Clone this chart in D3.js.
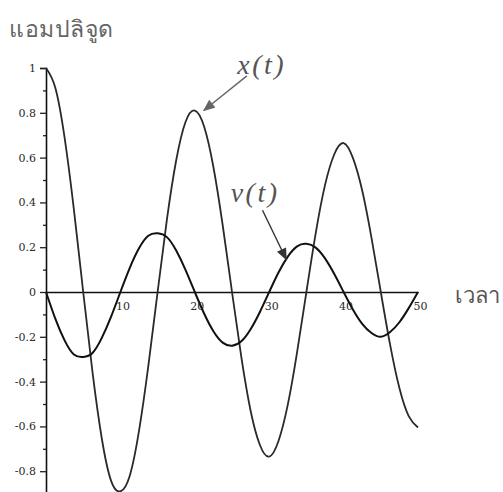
<!DOCTYPE html>
<html>
<head>
<meta charset="utf-8">
<script src="https://cdn.jsdelivr.net/npm/d3@7"></script>
<style>
  body { margin: 0; background: #fff; }
  .wrapper { width: 503px; height: 492px; }
  .tick text { font-family: "DejaVu Serif", "Liberation Serif", serif; font-size: 11px; fill: #2a2a2a; }
</style>
</head>
<body>
<div class="wrapper"></div>
<script>
width = 503;
height = 492;

// time samples and values
t = [0, 1.25, 2.5, 3.75, 5, 6.25, 7.5, 8.75, 10, 11.25, 12.5, 13.75, 15, 16.25, 17.5, 18.75,
  20, 21.25, 22.5, 23.75, 25, 26.25, 27.5, 28.75, 30, 31.25, 32.5, 33.75, 35, 36.25, 37.5, 38.75,
  40, 41.25, 42.5, 43.75, 45, 46.25, 47.5, 48.75, 50];
xVals = [1, 0.912, 0.689, 0.368, 0, -0.358, -0.654, -0.843, -0.89, -0.821, -0.62, -0.331, 0, 0.323, 0.588, 0.759,
  0.81, 0.739, 0.558, 0.298, 0, -0.29, -0.53, -0.683, -0.735, -0.665, -0.503, -0.268, 0, 0.262, 0.477, 0.615,
  0.665, 0.599, 0.453, 0.242, 0, -0.235, -0.429, -0.554, -0.605];
vVals = [0, -0.119, -0.216, -0.279, -0.29, -0.272, -0.205, -0.11, 0, 0.107, 0.195, 0.251, 0.262, 0.245, 0.185, 0.099,
  0, -0.096, -0.175, -0.226, -0.24, -0.22, -0.166, -0.089, 0, 0.087, 0.158, 0.204, 0.215, 0.198, 0.15, 0.08,
  0, -0.078, -0.142, -0.183, -0.2, -0.179, -0.135, -0.072, 0];

xTicks = [10, 20, 30, 40, 50];
yTicks = [1, 0.8, 0.6, 0.4, 0.2, 0, -0.2, -0.4, -0.6, -0.8];
yMinor = [0.9, 0.7, 0.5, 0.3, 0.1, -0.1, -0.3, -0.5, -0.7, -0.9];

yTitle = "แอมปลิจูด";
xTitle = "เวลา";

// annotations in data units: label position, arrow start, arrow end
notes = [
  { name: "x", label: [29, 0.975], from: [27, 0.965], to: [21.2, 0.81], color: "#666" },
  { name: "v", label: [28.1, 0.4], from: [29.1, 0.365], to: [32.3, 0.145], color: "#333" }
];

scaleX = d3.scaleLinear().domain([0, 50]).range([46, 418]);
scaleY = d3.scaleLinear().domain([-1, 1]).range([516, 68]);

svg = d3.select(".wrapper")
  .append("svg")
  .attr("width", width)
  .attr("height", height)
  .attr("viewBox", "0 0 " + width + " " + height);

/* axes */
// minor y ticks
svg.append("g")
  .attr("transform", "translate(46,0)")
  .call(d3.axisLeft(scaleY).tickValues(yMinor).tickSize(3).tickFormat(""))
  .call(g => g.select(".domain").remove())
  .call(g => g.selectAll("line").attr("stroke", "#222").attr("stroke-width", 1.3));

// major y ticks
svg.append("g")
  .attr("transform", "translate(46,0)")
  .call(d3.axisLeft(scaleY).tickValues(yTicks).tickSize(6).tickPadding(4)
    .tickFormat(function (d) { return String(d) }))
  .call(g => g.select(".domain").attr("stroke", "#111").attr("stroke-width", 1.6))
  .call(g => g.selectAll("line").attr("stroke", "#222").attr("stroke-width", 1.3));

// x axis through zero
svg.append("g")
  .attr("transform", "translate(0," + scaleY(0) + ")")
  .call(d3.axisBottom(scaleX).tickValues(xTicks).tickSize(0).tickPadding(10)
    .tickSizeOuter(0)
    .tickFormat(function (d) { return String(d) }))
  .call(g => g.select(".domain").attr("stroke", "#111").attr("stroke-width", 1.6))
  .call(g => g.selectAll("text").attr("dx", 2));

/* curves */
line = function (vals) {
  return d3.line()
    .x(function (d, i) { return scaleX(t[i]) })
    .y(function (d) { return scaleY(d) })
    .curve(d3.curveNatural)(vals);
};

svg.append("path")
  .attr("d", line(xVals))
  .attr("fill", "none")
  .attr("stroke", "#2a2a2a")
  .attr("stroke-width", 1.8);

svg.append("path")
  .attr("d", line(vVals))
  .attr("fill", "none")
  .attr("stroke", "#111")
  .attr("stroke-width", 2);

/* annotations */
defs = svg.append("defs");
notes.forEach(function (n) {
  defs.append("marker")
    .attr("id", "head-" + n.name)
    .attr("viewBox", "0 0 12 10")
    .attr("refX", 11)
    .attr("refY", 5)
    .attr("markerWidth", 13)
    .attr("markerHeight", 10)
    .attr("markerUnits", "userSpaceOnUse")
    .attr("orient", "auto")
    .append("path")
    .attr("d", "M0,0 L12,5 L0,10 Z")
    .attr("fill", n.color);

  svg.append("line")
    .attr("x1", scaleX(n.from[0]))
    .attr("y1", scaleY(n.from[1]))
    .attr("x2", scaleX(n.to[0]))
    .attr("y2", scaleY(n.to[1]))
    .attr("stroke", n.color)
    .attr("stroke-width", 1.4)
    .attr("marker-end", "url(#head-" + n.name + ")");

  svg.append("text")
    .attr("x", scaleX(n.label[0]))
    .attr("y", scaleY(n.label[1]))
    .attr("text-anchor", "middle")
    .attr("font-family", "Liberation Serif, Times New Roman, serif")
    .attr("font-style", "italic")
    .attr("font-size", 28)
    .attr("letter-spacing", 2.5)
    .attr("fill", "#555")
    .text(n.name + "(t)");
});

/* titles */
svg.append("text")
  .attr("x", 9)
  .attr("y", 37)
  .attr("font-family", "Noto Sans, sans-serif")
  .attr("font-size", 23)
  .attr("letter-spacing", 0.5)
  .attr("fill", "#666")
  .text(yTitle);

svg.append("text")
  .attr("x", 455)
  .attr("y", 303)
  .attr("font-family", "Noto Sans, sans-serif")
  .attr("font-size", 22)
  .attr("fill", "#555")
  .text(xTitle);
</script>
</body>
</html>
